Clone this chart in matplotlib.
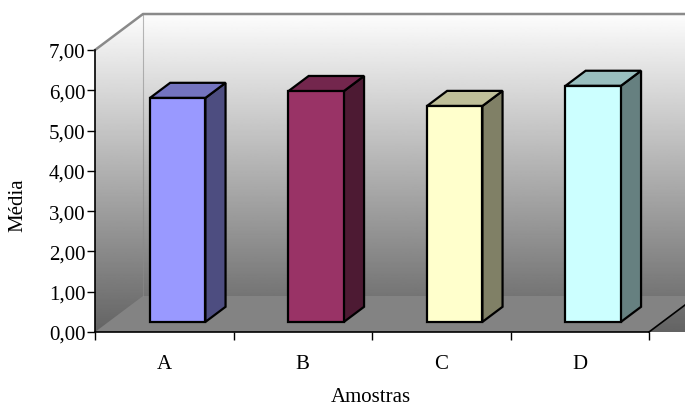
import matplotlib.pyplot as plt
import numpy as np
from matplotlib.patches import Polygon

# médias por amostra
amostras = ["A", "B", "C", "D"]
medias = [5.56, 5.73, 5.36, 5.86]
cores_frente = ["#9999FF", "#993366", "#FFFFCC", "#CCFFFF"]
yticks = [0, 1, 2, 3, 4, 5, 6, 7]

plt.rcParams["font.family"] = ["Liberation Serif", "DejaVu Serif"]

# deslocamento da profundidade (unidades de dados)
DX = 0.3466
DY = 0.8935
f0, f1 = 0.28, 0.70
larg = 0.4


def escurece(cor, k):
    c = np.array(plt.matplotlib.colors.to_rgb(cor))
    return tuple(c * k)


fig = plt.figure(figsize=(6.85, 4.1), dpi=100)
ax = fig.add_axes([95 / 685, 77 / 410, 554 / 685, 282 / 410])
ax.set_facecolor("none")
n = len(amostras)
ymax = yticks[-1]

# gradiente das paredes (fundo e lateral)
grad = np.linspace(0.99, 0.39, 256).reshape(-1, 1)
ax.imshow(grad, cmap="gray", vmin=0, vmax=1, aspect="auto",
          extent=(0, n + DX, 0, ymax + DY), origin="upper", clip_on=False, zorder=0)
# tampa o canto acima da parede lateral
ax.add_patch(Polygon([(0, ymax), (DX, ymax + DY), (0, ymax + DY)], closed=True,
                     facecolor="white", edgecolor="none", zorder=0.5, clip_on=False))

# piso
ax.add_patch(Polygon([(0, 0), (n, 0), (n + DX, DY), (DX, DY)], closed=True,
                     facecolor="#838383", edgecolor="none", zorder=1, clip_on=False))
ax.plot([n, n + DX], [0, DY], color="black", lw=1.2, clip_on=False, zorder=2)
# bordas superiores das paredes
ax.plot([0, DX, n + DX], [ymax, ymax + DY, ymax + DY], color="#8a8a8a", lw=1.8,
        clip_on=False, zorder=2)
ax.plot([DX, DX], [DY, ymax + DY], color="#8a8a8a", lw=0.8, alpha=0.6,
        clip_on=False, zorder=2)

# barras 3D
for i, (v, cor) in enumerate(zip(medias, cores_frente)):
    x0 = i + 0.5 - larg / 2 + f0 * DX
    x1 = x0 + larg
    yb = f0 * DY
    yt = yb + v
    px, py = (f1 - f0) * DX, (f1 - f0) * DY
    kw = dict(edgecolor="black", lw=1.6, joinstyle="miter", zorder=3, clip_on=False)
    ax.add_patch(Polygon([(x1, yb), (x1, yt), (x1 + px, yt + py), (x1 + px, yb + py)],
                         facecolor=escurece(cor, 0.5), **kw))
    ax.add_patch(Polygon([(x0, yt), (x1, yt), (x1 + px, yt + py), (x0 + px, yt + py)],
                         facecolor=escurece(cor, 0.75), **kw))
    ax.add_patch(Polygon([(x0, yb), (x1, yb), (x1, yt), (x0, yt)],
                         facecolor=cor, **kw))

ax.set_xlim(0, n)
ax.set_ylim(0, ymax)
for s in ["top", "right"]:
    ax.spines[s].set_visible(False)
for s in ["left", "bottom"]:
    ax.spines[s].set_color("black")
    ax.spines[s].set_linewidth(1.2)
    ax.spines[s].set_zorder(4)

ax.set_yticks(yticks)
ax.set_yticklabels([f"{t:.2f}".replace(".", ",") for t in yticks])
ax.tick_params(axis="y", direction="out", length=6, width=1, pad=1, labelsize=15)
ax.set_xticks(np.arange(n + 1), minor=True)
ax.set_xticks(np.arange(n) + 0.5)
ax.set_xticklabels(amostras)
ax.tick_params(axis="x", which="major", length=0, pad=16, labelsize=15)
ax.tick_params(axis="x", which="minor", direction="out", length=6, width=1)

fig.text(18 / 685, 1 - 205 / 410, "Média", rotation=90, ha="center", va="center", fontsize=15)
fig.text(371 / 685, 1 - 398 / 410, "Amostras", ha="center", va="center", fontsize=15)

fig.savefig("out.png", dpi=100)
